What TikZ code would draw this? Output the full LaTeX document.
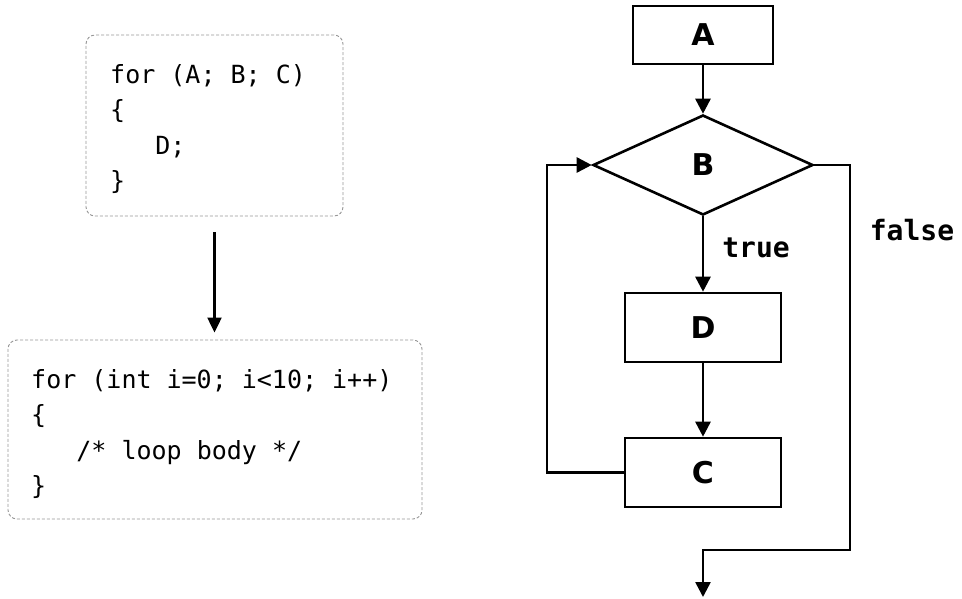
\documentclass[tikz,border=0pt]{standalone}
\usepackage{fontspec}
\setmainfont{DejaVu Sans}
\newfontfamily\codefont{DejaVu Sans Mono}
\usetikzlibrary{arrows.meta,shapes.geometric}
\definecolor{boxgray}{RGB}{150,150,150}
\begin{document}
\begin{tikzpicture}[x=1pt,y=-1pt,
  codebox/.style={draw=boxgray,dashed,dash pattern=on 3pt off 2pt,line width=0.9pt,rounded corners=9pt,inner sep=0pt},
  codeline/.style={anchor=base west,inner sep=0pt,font=\codefont\fontsize{25}{30}\selectfont},
  flow/.style={draw,line width=2.6pt,inner sep=0pt,font=\bfseries\fontsize{30}{34}\selectfont},
  lbl/.style={inner sep=0pt,font=\codefont\bfseries\fontsize{28}{32}\selectfont},
  arr/.style={line width=2.6pt,-{Triangle[length=15pt,width=15pt]}},
  carr/.style={line width=2.2pt,-{Triangle[length=15pt,width=14pt]}}]
\useasboundingbox (0,0) rectangle (962,598);
% left: code boxes
\node[codebox,minimum width=257pt,minimum height=181pt] (box1) at (214.5,125.5) {};
\node[codeline] (c1a) at (110,83) {for (A; B; C)};
\node[codeline] (c1b) at (110,118.5) {\{};
\node[codeline] (c1c) at (110,154) {\hphantom{MMM}D;};
\node[codeline] (c1d) at (110,189.5) {\}};
\node[codebox,minimum width=414pt,minimum height=179pt] (box2) at (215,429.5) {};
\node[codeline] (c2a) at (31,388) {for (int i=0; i<10; i++)};
\node[codeline] (c2b) at (31,423.5) {\{};
\node[codeline] (c2c) at (31,459) {\hphantom{MMM}/* loop body */};
\node[codeline] (c2d) at (31,494.5) {\}};
\draw[carr,shorten <=16pt,shorten >=7pt] (box1.south) -- (box1.south |- box2.north);
% right: flowchart
\node[flow,minimum width=140pt,minimum height=58pt] (A) at (703,35) {A};
\node[flow,diamond,aspect=2.2,minimum width=220pt,minimum height=100pt] (B) at (703,165) {B};
\node[flow,minimum width=156pt,minimum height=69pt] (D) at (703,327.5) {D};
\node[flow,minimum width=156pt,minimum height=69pt] (C) at (703,472.5) {C};
\draw[arr] (A.south) -- (B.north);
\draw[arr] (B.south) -- (D.north);
\node[lbl] (t) at (756,248) {true};
\draw[arr] (D.south) -- (C.north);
\coordinate (lp) at (547,165);
\draw[arr] (C.west) -| (lp) -- (B.west);
\coordinate (fr) at (850,550);
\coordinate (endpt) at (703,597);
\draw[arr] (B.east) -| (fr) -| (endpt);
\node[lbl] (f) at (912,230) {false};
\end{tikzpicture}
\end{document}
